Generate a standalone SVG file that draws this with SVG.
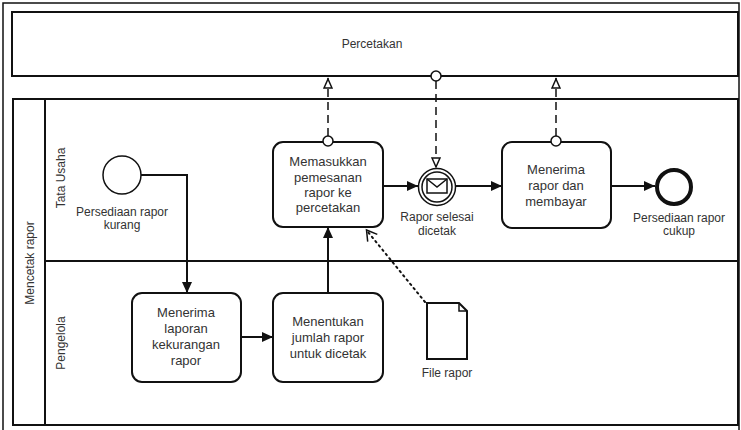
<svg xmlns="http://www.w3.org/2000/svg" width="741" height="430" viewBox="0 0 741 430">
  <defs>
    <style>
      .frame { fill: none; stroke: #111; stroke-width: 1.5; }
      .pool { fill: #fff; stroke: #111; stroke-width: 2; }
      .line { fill: none; stroke: #111; stroke-width: 2; }
      .task { fill: #fff; stroke: #111; stroke-width: 2; }
      .seq { fill: none; stroke: #111; stroke-width: 2; marker-end: url(#seqArrow); }
      .msg { fill: none; stroke: #111; stroke-width: 1.5; stroke-dasharray: 8 5; }
      .assoc { fill: none; stroke: #111; stroke-width: 2; stroke-dasharray: 1.5 4; stroke-linecap: round; }
      .txt { font-family: "Liberation Sans", Arial, sans-serif; font-size: 12px; fill: #333; text-anchor: middle; }
      .task-txt { font-size: 13px; }
      .dot { fill: #fff; stroke: #111; stroke-width: 1.5; }
    </style>
    <marker id="seqArrow" markerUnits="userSpaceOnUse" markerWidth="12" markerHeight="10" refX="11" refY="5" orient="auto">
      <path d="M0,0 L11,5 L0,10 Z" fill="#111"/>
    </marker>
    <marker id="msgArrow" markerUnits="userSpaceOnUse" markerWidth="12" markerHeight="10" refX="11" refY="5" orient="auto">
      <path d="M1,1 L10,5 L1,9 Z" fill="#fff" stroke="#111" stroke-width="1.5"/>
    </marker>
    <marker id="openArrow" markerUnits="userSpaceOnUse" markerWidth="14" markerHeight="14" refX="11" refY="7" orient="auto">
      <path d="M1,1 L11,7 L1,13" fill="none" stroke="#111" stroke-width="1.5"/>
    </marker>
  </defs>

  <rect width="741" height="430" fill="#fff"/>
  <!-- outer border -->
  <rect class="frame" x="3" y="3" width="736" height="432"/>

  <!-- external pool -->
  <g id="pool-percetakan">
    <rect class="pool" x="12" y="12" width="726" height="64"/>
    <text class="txt" x="372" y="48">Percetakan</text>
  </g>

  <!-- main pool with two lanes -->
  <g id="pool-mencetak">
    <rect class="pool" x="13" y="99" width="725" height="326"/>
    <line class="line" x1="45" y1="99" x2="45" y2="425"/>
    <line class="line" x1="45" y1="261" x2="738" y2="261"/>
    <text class="txt" font-size="13" transform="translate(34 263) rotate(-90)">Mencetak rapor</text>
  </g>
  <g id="lane-tata-usaha">
    <text class="txt" transform="translate(65 178) rotate(-90)">Tata Usaha</text>
  </g>
  <g id="lane-pengelola">
    <text class="txt" transform="translate(65 343) rotate(-90)">Pengelola</text>
  </g>

  <!-- start event -->
  <g id="start-event">
    <circle cx="122" cy="175" r="19" fill="#fff" stroke="#111" stroke-width="1.5"/>
    <text class="txt" x="122" y="216">Persediaan rapor</text>
    <text class="txt" x="122" y="229">kurang</text>
  </g>

  <!-- tasks -->
  <g id="task-menerima-laporan">
    <rect class="task" x="132" y="293" width="109" height="89" rx="10"/>
    <text class="txt task-txt" x="186" y="317">Menerima</text>
    <text class="txt task-txt" x="186" y="333">laporan</text>
    <text class="txt task-txt" x="186" y="349">kekurangan</text>
    <text class="txt task-txt" x="186" y="365">rapor</text>
  </g>
  <g id="task-menentukan">
    <rect class="task" x="273" y="293" width="110" height="89" rx="10"/>
    <text class="txt task-txt" x="328" y="326">Menentukan</text>
    <text class="txt task-txt" x="328" y="342">jumlah rapor</text>
    <text class="txt task-txt" x="328" y="358">untuk dicetak</text>
  </g>
  <g id="task-memasukkan">
    <rect class="task" x="273" y="142" width="110" height="85" rx="10"/>
    <text class="txt task-txt" x="328" y="166">Memasukkan</text>
    <text class="txt task-txt" x="328" y="182">pemesanan</text>
    <text class="txt task-txt" x="328" y="197">rapor ke</text>
    <text class="txt task-txt" x="328" y="212">percetakan</text>
  </g>
  <g id="task-menerima-rapor">
    <rect class="task" x="502" y="142" width="109" height="86" rx="10"/>
    <text class="txt task-txt" x="556" y="174">Menerima</text>
    <text class="txt task-txt" x="556" y="190">rapor dan</text>
    <text class="txt task-txt" x="556" y="206">membayar</text>
  </g>

  <!-- intermediate message catch event -->
  <g id="event-rapor-selesai">
    <circle cx="437" cy="187" r="18.5" fill="#fff" stroke="#111" stroke-width="1.5"/>
    <circle cx="437" cy="187" r="15" fill="none" stroke="#111" stroke-width="1.5"/>
    <rect x="427" y="179" width="20" height="14" fill="#fff" stroke="#111" stroke-width="1.5"/>
    <path d="M427,179 L437,187 L447,179" fill="none" stroke="#111" stroke-width="1.5"/>
    <text class="txt" x="437" y="221">Rapor selesai</text>
    <text class="txt" x="437" y="235">dicetak</text>
  </g>

  <!-- end event -->
  <g id="end-event">
    <circle cx="674" cy="187" r="17" fill="#fff" stroke="#111" stroke-width="4"/>
    <text class="txt" x="679" y="222">Persediaan rapor</text>
    <text class="txt" x="679" y="235">cukup</text>
  </g>

  <!-- data object -->
  <g id="data-file-rapor">
    <path d="M427,303 H459 L467,311 V359 H427 Z" fill="#fff" stroke="#111" stroke-width="2"/>
    <path d="M459,303 V311 H467" fill="none" stroke="#111" stroke-width="1.5"/>
    <text class="txt" x="447" y="377">File rapor</text>
  </g>

  <!-- connectors (drawn last so the message-flow source dots sit on top of the shapes) -->
  <g id="connectors">
    <path class="seq" d="M141,175 H187 V293"/>
    <path class="seq" d="M241,337 H273"/>
    <path class="seq" d="M328,293 V227"/>
    <path class="seq" d="M383,186 H418"/>
    <path class="seq" d="M456,186 H502"/>
    <path class="seq" d="M611,186 H655"/>
    <!-- message flows -->
    <path class="msg" d="M328,136 V78" marker-end="url(#msgArrow)"/>
    <path class="msg" d="M556,136 V78" marker-end="url(#msgArrow)"/>
    <path class="msg" d="M436,81 V168" marker-end="url(#msgArrow)"/>
    <circle class="dot" cx="328" cy="141" r="5"/>
    <circle class="dot" cx="556" cy="141" r="5"/>
    <circle class="dot" cx="436" cy="76" r="5"/>
    <!-- association -->
    <path class="assoc" d="M425,302 L368,232"/>
    <path d="M368,232 L366.5,230" fill="none" stroke="none" marker-end="url(#openArrow)"/>
  </g>
</svg>
